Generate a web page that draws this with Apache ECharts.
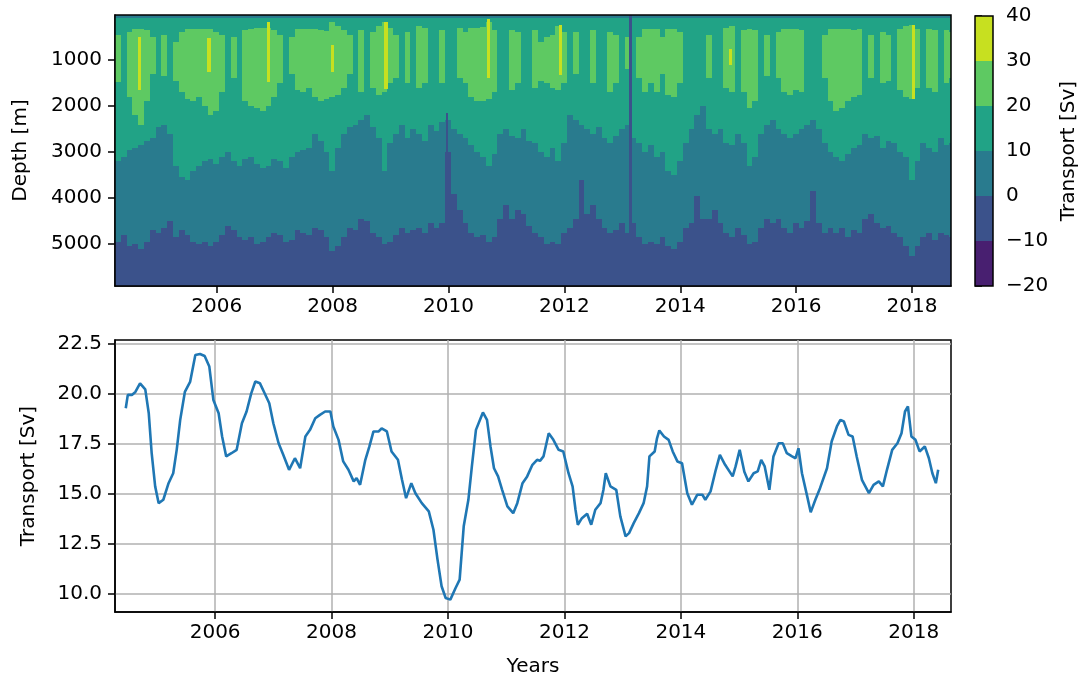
<!DOCTYPE html>
<html>
<head>
<meta charset="utf-8">
<script src="https://cdn.jsdelivr.net/npm/echarts@6/dist/echarts.min.js"></script>
<style>
  html, body { margin: 0; padding: 0; background: #ffffff; }
  #chart { width: 1083px; height: 675px; }
</style>
</head>
<body>
<div id="chart"></div>
<script>
// Contour levels of the depth-resolved transport [Sv] and their fill colours
const levels = [-20, -10, 0, 10, 20, 30, 40];
const levelColors = ['#481f70', '#3b528b', '#297b8e', '#21a386', '#5ec962', '#c7e020'];

// Tick labels
const yearTicks = [2006, 2008, 2010, 2012, 2014, 2016, 2018];
const depthTicks = [1000, 2000, 3000, 4000, 5000];
const transportTicks = [10, 12.5, 15, 17.5, 20, 22.5];

// Depth range of the section [m], bottom of the thin 0-10 Sv surface layer [m],
// and time columns of the section (years)
const depthLimits = [20, 5910];
const surfaceLayerBottom = 85;
const columnStart = 2004.244;
const columnWidth = 0.1;

// Per time column: depth range of the 20-30 Sv layer (null where absent),
// depth of the 10 Sv contour and depth of the 0 Sv contour [m]
const greenTop = [
  460, null, 380, 320, 320, 350, 500, null, 450, null,
  600, 400, 320, 320, 320, 330, 330, 380, 450, null,
  500, null, 350, 320, 310, 310, 310, 350, 450, null,
  500, 330, 320, 330, 330, 340, 360, 170, 250, 350,
  450, null, 350, null, 400, 250, 170, 300, 450, null,
  400, null, 250, 300, null, null, 350, null, null, 300,
  400, 300, 300, 280, 170, 350, null, null, 350, 400,
  null, null, 350, 600, 500, 450, 250, 400, null, 400,
  null, null, 350, null, null, 400, 450, null, 500, null,
  500, 320, 330, 320, 500, 320, 320, 400, null, null,
  null, null, 450, null, null, 300, 250, null, 350, 320,
  350, null, 450, null, 400, 330, 320, 320, 350, null,
  null, null, 450, 320, 320, 330, 330, 350, 320, null,
  450, null, 400, 450, null, 330, 250, 240, 330, null,
  330, 350, null, 350, 400
];
const greenBottom = [
  1470, null, 1800, 2200, 2400, 1900, 1300, null, 1350, null,
  1450, 1700, 1850, 1900, 1800, 2000, 2200, 2100, 1700, null,
  1400, null, 1900, 2000, 2050, 2100, 2000, 1800, 1500, null,
  1300, 1650, 1700, 1600, 1800, 1900, 1850, 1800, 1750, 1600,
  1300, null, 1700, null, 1600, 1750, 1700, 1500, 1400, null,
  1500, null, 1600, 1500, null, null, 1500, null, null, 1400,
  1500, 1800, 1900, 1900, 1850, 1700, null, null, 1650, 1500,
  null, null, 1600, 1450, 1500, 1600, 1650, 1500, null, 1300,
  null, null, 1500, null, null, 1700, 1500, null, 1200, null,
  1400, 1700, 1500, 1700, 1300, 1750, 1800, 1500, null, null,
  null, null, 1400, null, null, 1600, 1700, null, 1700, 2050,
  1900, null, 1350, null, 1400, 1700, 1750, 1650, 1700, null,
  null, null, 1400, 1900, 2100, 2050, 1900, 1800, 1750, null,
  1400, null, 1500, 1450, null, 1650, 1800, 1850, 1600, null,
  1600, 1700, null, 1500, 1400
];
const depth10 = [
  3200, 3100, 2950, 2900, 2850, 2750, 2700, 2450, 2400, 2600,
  3300, 3550, 3600, 3400, 3300, 3200, 3150, 3250, 3100, 3000,
  3200, 3300, 3150, 3100, 3250, 3350, 3300, 3150, 3200, 3350,
  3100, 3000, 2950, 2900, 2600, 2750, 3000, 3400, 2900, 2600,
  2450, 2400, 2300, 2200, 2450, 2700, 3400, 2800, 2600, 2400,
  2700, 2500, 2600, 2750, 2400, 2550, 2350, 2300, 2500, 2600,
  2700, 2850, 3000, 3100, 3300, 3050, 2600, 2500, 2650, 2700,
  2500, 2750, 2800, 3000, 3100, 2900, 3200, 2800, 2200, 2300,
  2400, 2500, 2600, 2450, 2700, 2800, 2650, 2500, 2400, 2700,
  2800, 3000, 2850, 3100, 3000, 3400, 3500, 3200, 2800, 2500,
  2200, 2000, 2500, 2600, 2500, 2800, 2850, 2600, 2800, 3300,
  3100, 2600, 2400, 2300, 2500, 2600, 2700, 2600, 2500, 2400,
  2300, 2500, 2800, 3000, 3100, 3200, 3050, 2900, 2850, 2600,
  2700, 2650, 2900, 2750, 2800, 3000, 3100, 3600, 3200, 2800,
  2900, 3000, 2700, 2850, 2800
];
const depth0 = [
  4950, 4800, 5050, 5000, 5100, 4950, 4700, 4750, 4650, 4500,
  4850, 4700, 4800, 4950, 5000, 4950, 5050, 4950, 4800, 4600,
  4700, 4850, 4900, 4850, 5000, 4950, 4850, 4750, 4800, 4950,
  4900, 4700, 4750, 4800, 4650, 4700, 4850, 5150, 5050, 4850,
  4650, 4700, 4450, 4500, 4750, 4850, 5000, 4950, 4800, 4650,
  4750, 4700, 4650, 4750, 4550, 4650, 4550, 3000, 3900, 4250,
  4550, 4750, 4850, 4800, 4950, 4850, 4450, 4150, 4450, 4250,
  4350, 4600, 4750, 4850, 5000, 4950, 5000, 4750, 4650, 4450,
  3600, 4350, 4150, 4450, 4650, 4750, 4700, 4550, 4750, 4550,
  4850, 5000, 4950, 5000, 4850, 5050, 5100, 4950, 4650, 4550,
  3950, 4450, 4450, 4250, 4550, 4750, 4850, 4650, 4800, 5000,
  4950, 4650, 4450, 4550, 4450, 4650, 4750, 4550, 4650, 4500,
  3850, 4550, 4750, 4650, 4750, 4650, 4850, 4700, 4750, 4450,
  4350, 4550, 4650, 4600, 4750, 4850, 5050, 5250, 5050, 4850,
  4750, 4900, 4750, 4800, 4850
];

// Short-lived streaks: year, depth range [m] and transport [Sv]
const streakYear   = [2004.67, 2005.87, 2006.89, 2008.00, 2008.92, 2010.69, 2011.93, 2014.87, 2018.03, 2009.98, 2013.14];
const streakTop    = [490, 530, 170, 670, 170, 100, 240, 750, 240, 2150, 20];
const streakBottom = [1650, 1250, 1470, 1250, 1620, 1400, 1330, 1110, 1840, 5910, 5910];
const streakValue  = [35, 35, 35, 35, 35, 35, 35, 35, 35, -5, -5];

// Depth-integrated transport time series
const years = [
  2004.465, 2004.50, 2004.57, 2004.63, 2004.71, 2004.80, 2004.86, 2004.91, 2004.97, 2005.03,
  2005.11, 2005.20, 2005.28, 2005.34, 2005.40, 2005.48, 2005.57, 2005.66, 2005.74, 2005.82,
  2005.90, 2005.97, 2006.06, 2006.12, 2006.19, 2006.28, 2006.37, 2006.46, 2006.54, 2006.62,
  2006.69, 2006.77, 2006.85, 2006.93, 2007.00, 2007.09, 2007.17, 2007.27, 2007.37, 2007.46,
  2007.55, 2007.63, 2007.72, 2007.80, 2007.89, 2007.98, 2008.03, 2008.12, 2008.20, 2008.29,
  2008.38, 2008.43, 2008.49, 2008.58, 2008.65, 2008.72, 2008.81, 2008.86, 2008.95, 2009.03,
  2009.14, 2009.21, 2009.28, 2009.37, 2009.44, 2009.55, 2009.67, 2009.75, 2009.82, 2009.89,
  2009.96, 2010.04, 2010.13, 2010.20, 2010.27, 2010.35, 2010.41, 2010.48, 2010.56, 2010.60,
  2010.67, 2010.73, 2010.79, 2010.86, 2010.93, 2011.02, 2011.12, 2011.19, 2011.28, 2011.36,
  2011.45, 2011.53, 2011.58, 2011.64, 2011.73, 2011.81, 2011.90, 2011.98, 2012.07, 2012.14,
  2012.19, 2012.23, 2012.30, 2012.39, 2012.46, 2012.53, 2012.62, 2012.67, 2012.71, 2012.79,
  2012.89, 2012.96, 2013.05, 2013.11, 2013.19, 2013.28, 2013.36, 2013.42, 2013.46, 2013.55,
  2013.59, 2013.63, 2013.71, 2013.79, 2013.86, 2013.94, 2014.02, 2014.11, 2014.19, 2014.28,
  2014.37, 2014.42, 2014.51, 2014.60, 2014.67, 2014.76, 2014.89, 2014.94, 2015.01, 2015.09,
  2015.16, 2015.25, 2015.32, 2015.38, 2015.44, 2015.52, 2015.59, 2015.68, 2015.75, 2015.82,
  2015.91, 2015.97, 2016.02, 2016.08, 2016.17, 2016.23, 2016.31, 2016.39, 2016.51, 2016.59,
  2016.68, 2016.74, 2016.80, 2016.88, 2016.95, 2017.02, 2017.11, 2017.23, 2017.31, 2017.40,
  2017.47, 2017.54, 2017.63, 2017.72, 2017.79, 2017.85, 2017.90, 2017.96, 2018.03, 2018.10,
  2018.19, 2018.26, 2018.32, 2018.38, 2018.42
];
const transport = [
  19.28, 19.95, 19.95, 20.10, 20.53, 20.23, 19.03, 17.03, 15.37, 14.53,
  14.70, 15.53, 16.03, 17.20, 18.70, 20.10, 20.60, 21.95, 22.00, 21.90,
  21.37, 19.70, 19.03, 17.87, 16.87, 17.03, 17.20, 18.53, 19.12, 20.03,
  20.62, 20.53, 20.03, 19.53, 18.53, 17.53, 16.95, 16.20, 16.78, 16.28,
  17.87, 18.20, 18.78, 18.95, 19.12, 19.12, 18.37, 17.70, 16.62, 16.20,
  15.62, 15.78, 15.45, 16.70, 17.37, 18.12, 18.12, 18.28, 18.12, 17.12,
  16.70, 15.70, 14.78, 15.53, 15.03, 14.53, 14.12, 13.20, 11.70, 10.37,
  9.78, 9.70, 10.28, 10.70, 13.37, 14.70, 16.37, 18.20, 18.78, 19.07,
  18.70, 17.37, 16.28, 15.87, 15.20, 14.37, 14.03, 14.53, 15.53, 15.87,
  16.45, 16.70, 16.65, 16.87, 18.03, 17.70, 17.20, 17.12, 16.03, 15.37,
  14.20, 13.45, 13.78, 14.00, 13.45, 14.20, 14.53, 15.20, 16.03, 15.37,
  15.20, 13.87, 12.87, 13.03, 13.53, 14.03, 14.53, 15.37, 16.87, 17.12,
  17.78, 18.17, 17.87, 17.70, 17.12, 16.62, 16.53, 15.03, 14.45, 14.95,
  14.95, 14.70, 15.12, 16.20, 16.95, 16.45, 15.87, 16.37, 17.20, 16.10,
  15.62, 16.03, 16.12, 16.70, 16.37, 15.20, 16.87, 17.53, 17.53, 17.03,
  16.87, 16.78, 17.28, 16.03, 14.87, 14.07, 14.70, 15.28, 16.28, 17.62,
  18.37, 18.70, 18.62, 17.95, 17.87, 16.87, 15.70, 15.03, 15.45, 15.62,
  15.37, 16.20, 17.20, 17.53, 18.03, 19.12, 19.37, 17.87, 17.70, 17.12,
  17.37, 16.78, 16.03, 15.53, 16.20
];

// ---------------------------------------------------------------------------

const FONT = 'DejaVu Sans';
const INK = '#000000';

function levelIndex(v) {
  for (let k = 0; k < levels.length - 1; k++) {
    if (v >= levels[k] && v < levels[k + 1]) return k;
  }
  return levels.length - 2;
}

function minusFormat(v) {
  return v < 0 ? '\u2212' + Math.abs(v) : String(v);
}

// Filled-contour layers as rectangles [t0, t1, depthTop, depthBottom, value]
const bands = [];
for (let i = 0; i < depth10.length; i++) {
  const t0 = columnStart + i * columnWidth;
  const t1 = t0 + columnWidth;
  bands.push([t0, t1, depthLimits[0], surfaceLayerBottom, 5]);
  bands.push([t0, t1, surfaceLayerBottom, depth10[i], 15]);
  bands.push([t0, t1, depth10[i], depth0[i], 5]);
  bands.push([t0, t1, depth0[i], depthLimits[1], -5]);
  if (greenTop[i] != null) bands.push([t0, t1, greenTop[i], greenBottom[i], 25]);
}
for (let j = 0; j < streakYear.length; j++) {
  const half = streakValue[j] > 0 ? 0.03 : 0.02;
  bands.push([streakYear[j] - half, streakYear[j] + half, streakTop[j], streakBottom[j], streakValue[j]]);
}

// Colour bar blocks [0, 1, lower, upper, mid]
const colorBlocks = [];
for (let k = 0; k < levels.length - 1; k++) {
  colorBlocks.push([0, 1, levels[k], levels[k + 1], (levels[k] + levels[k + 1]) / 2]);
}

function renderRect(params, api) {
  const cs = params.coordSys;
  const a = api.coord([api.value(0), api.value(2)]);
  const b = api.coord([api.value(1), api.value(3)]);
  const x0 = Math.round(Math.max(cs.x, Math.min(a[0], b[0])));
  const x1 = Math.round(Math.min(cs.x + cs.width, Math.max(a[0], b[0])));
  const y0 = Math.round(Math.max(cs.y, Math.min(a[1], b[1])));
  const y1 = Math.round(Math.min(cs.y + cs.height, Math.max(a[1], b[1])));
  if (x1 <= x0 || y1 <= y0) return null;
  return {
    type: 'rect',
    shape: { x: x0, y: y0, width: x1 - x0, height: y1 - y0 },
    style: { fill: levelColors[levelIndex(api.value(4))] }
  };
}

function renderFrame(params) {
  const cs = params.coordSys;
  return {
    type: 'rect',
    shape: { x: cs.x, y: cs.y, width: cs.width, height: cs.height },
    style: { fill: 'none', stroke: INK, lineWidth: 1.5 },
    z2: 100
  };
}

const labelStyle = { color: INK, fontSize: 20, fontFamily: FONT };
const nameStyle = { color: INK, fontSize: 20, fontFamily: FONT };
const tickStyle = { show: true, inside: false, length: 7, lineStyle: { color: INK, width: 1.5 } };
const lineStyle = { show: true, onZero: false, lineStyle: { color: INK, width: 1.5 } };

const chart = echarts.init(document.getElementById('chart'), null, { renderer: 'canvas' });

chart.setOption({
  animation: false,
  backgroundColor: '#ffffff',
  grid: [
    { left: 115, top: 15, width: 836, height: 271, outerBoundsMode: 'none', containLabel: false },
    { left: 115, top: 340, width: 836, height: 272, outerBoundsMode: 'none', containLabel: false,
      show: true, borderColor: INK, borderWidth: 1.5, backgroundColor: 'transparent' },
    { left: 975, top: 16, width: 18, height: 270, outerBoundsMode: 'none', containLabel: false }
  ],
  xAxis: [
    {
      gridIndex: 0, type: 'value', min: 2004.244, max: 2018.673,
      axisLine: lineStyle,
      axisTick: Object.assign({ customValues: yearTicks }, tickStyle),
      axisLabel: Object.assign({ customValues: yearTicks, margin: 11, formatter: v => String(v) }, labelStyle),
      splitLine: { show: false }
    },
    {
      gridIndex: 1, type: 'value', min: 2004.28, max: 2018.64,
      name: 'Years', nameLocation: 'middle', nameGap: 45, nameTextStyle: nameStyle,
      axisLine: lineStyle,
      axisTick: Object.assign({ customValues: yearTicks }, tickStyle),
      axisLabel: Object.assign({ customValues: yearTicks, margin: 11, formatter: v => String(v) }, labelStyle),
      splitLine: { show: true, lineStyle: { color: '#b0b0b0', width: 1.5 } }
    },
    {
      gridIndex: 2, type: 'value', min: 0, max: 1, show: false
    }
  ],
  yAxis: [
    {
      gridIndex: 0, type: 'value', inverse: true, min: depthLimits[0], max: depthLimits[1],
      name: 'Depth [m]', nameLocation: 'middle', nameGap: 84, nameTextStyle: nameStyle,
      axisLine: lineStyle,
      axisTick: Object.assign({ customValues: depthTicks }, tickStyle),
      axisLabel: Object.assign({ customValues: depthTicks, margin: 13, formatter: v => String(v) }, labelStyle),
      splitLine: { show: false }
    },
    {
      gridIndex: 1, type: 'value', min: 9.08, max: 22.7,
      name: 'Transport [Sv]', nameLocation: 'middle', nameGap: 76, nameTextStyle: nameStyle,
      axisLine: lineStyle,
      axisTick: Object.assign({ customValues: transportTicks }, tickStyle),
      axisLabel: Object.assign({ customValues: transportTicks, margin: 13, formatter: v => v.toFixed(1) }, labelStyle),
      splitLine: { show: true, lineStyle: { color: '#b0b0b0', width: 1.5 } }
    },
    {
      gridIndex: 2, type: 'value', position: 'right', min: levels[0], max: levels[levels.length - 1],
      name: 'Transport [Sv]', nameLocation: 'middle', nameGap: 66, nameTextStyle: nameStyle,
      axisLine: { show: false },
      axisTick: Object.assign({ customValues: levels }, tickStyle),
      axisLabel: Object.assign({ customValues: levels, margin: 13, formatter: minusFormat }, labelStyle),
      splitLine: { show: false }
    }
  ],
  series: [
    {
      type: 'custom', name: 'section', xAxisIndex: 0, yAxisIndex: 0,
      renderItem: renderRect, data: bands, clip: true,
      encode: { x: [0, 1], y: [2, 3] }, silent: true
    },
    {
      type: 'custom', name: 'sectionFrame', xAxisIndex: 0, yAxisIndex: 0,
      renderItem: renderFrame, data: [[2010, 3000]], z: 5, silent: true
    },
    {
      type: 'line', name: 'transport', xAxisIndex: 1, yAxisIndex: 1,
      data: years.map((t, i) => [t, transport[i]]),
      showSymbol: false, symbol: 'none', smooth: false,
      lineStyle: { color: '#1f77b4', width: 2.6 }, silent: true, z: 3
    },
    {
      type: 'custom', name: 'colorbar', xAxisIndex: 2, yAxisIndex: 2,
      renderItem: renderRect, data: colorBlocks,
      encode: { x: [0, 1], y: [2, 3] }, silent: true
    },
    {
      type: 'custom', name: 'colorbarFrame', xAxisIndex: 2, yAxisIndex: 2,
      renderItem: renderFrame, data: [[0.5, 10]], z: 5, silent: true
    }
  ]
});
</script>
</body>
</html>
